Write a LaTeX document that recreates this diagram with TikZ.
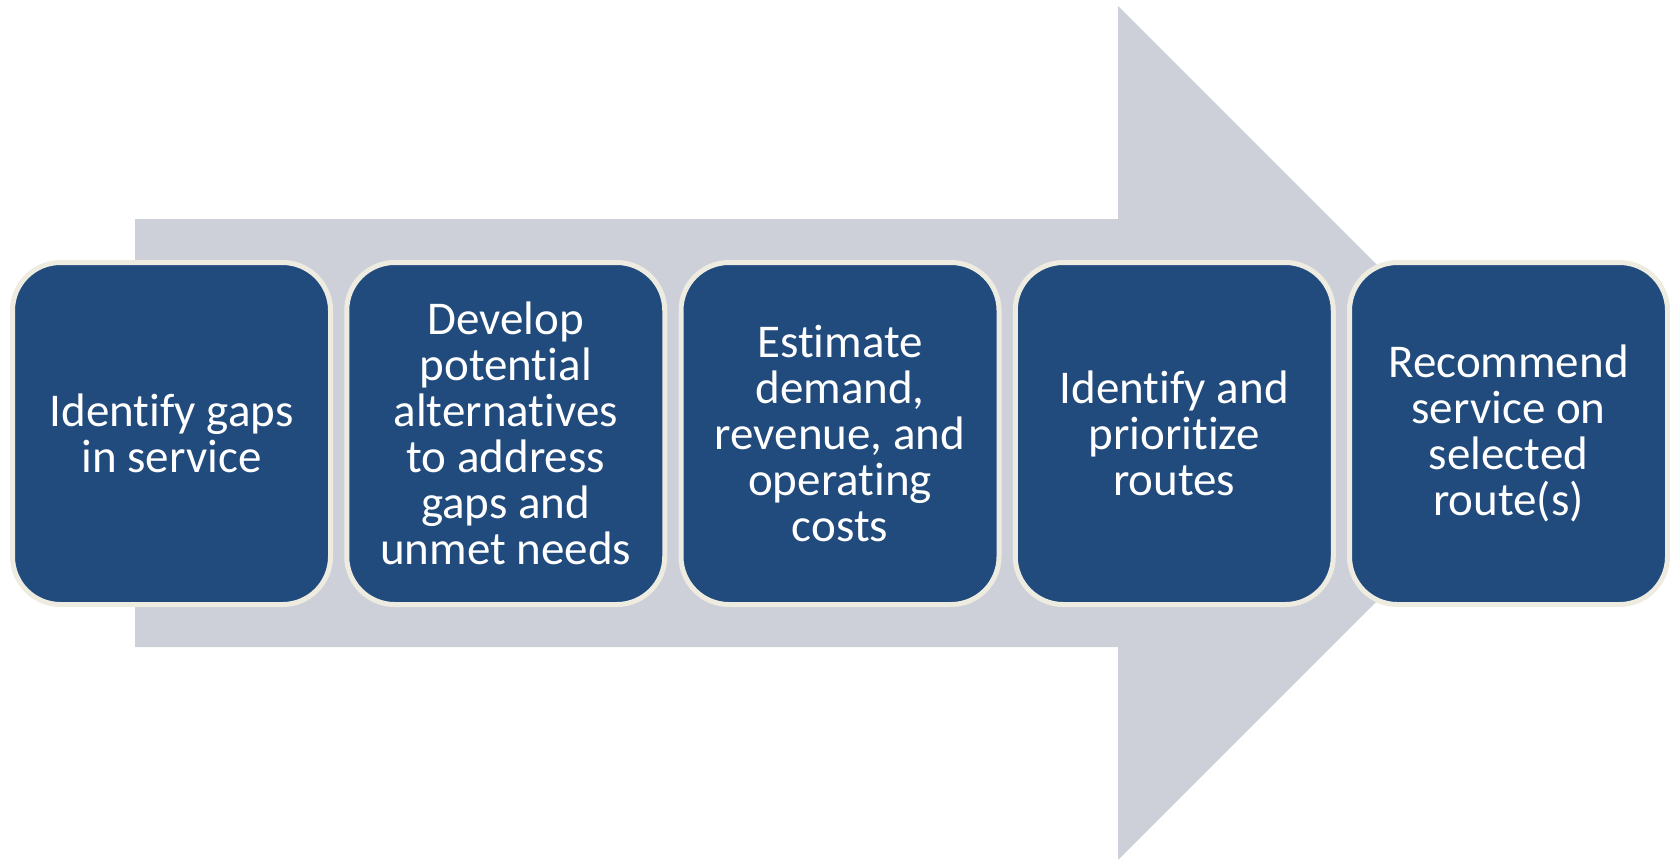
\documentclass[tikz,border=0pt]{standalone}
\usepackage{fontspec}
\setmainfont{Carlito}[Ligatures=NoCommon]
\usepackage{tikz}
\usetikzlibrary{
	calc,
	positioning
}
\definecolor{arrowgrey}{RGB}{205,208,217}
\definecolor{stepblue}{RGB}{33,74,125}
\definecolor{stepedge}{RGB}{238,236,225}
\tikzset{every path/.append style={line width=0.5pt}}
\tikzset{
	stepbox/.style={rectangle,rounded corners=24pt,fill=stepblue,draw=stepedge,line width=2.5pt,
		minimum width=159pt,minimum height=171pt,inner sep=0pt,align=center,text=white,
		font=\fontsize{23.5}{23}\selectfont}
}
\newcommand{\tikzStep}[3]{\node (#2) at #1 [stepbox]{#3};}

\begin{document}
\begin{tikzpicture}[x=0.5pt,y=-0.5pt]
	\useasboundingbox (0,0) rectangle (1673,858);
	
	\fill[arrowgrey] (135,219) -- (1118,219) -- (1118,6) -- (1545,433)
		-- (1118,860) -- (1118,647) -- (135,647) -- cycle;
	
	\tikzStep{(171.5,433.5)}{gaps}{Identify gaps\\in service};
	\tikzStep{(505.75,433.5)}{develop}{Develop\\potential\\alternatives\\to address\\gaps and\\unmet needs};
	\tikzStep{(840,433.5)}{estimate}{Estimate\\demand,\\revenue, and\\operating\\costs};
	\tikzStep{(1174.25,433.5)}{prioritize}{Identify and\\prioritize\\routes};
	\tikzStep{(1508.5,433.5)}{recommend}{Recommend\\service on\\selected\\route(s)};
\end{tikzpicture}
\end{document}
